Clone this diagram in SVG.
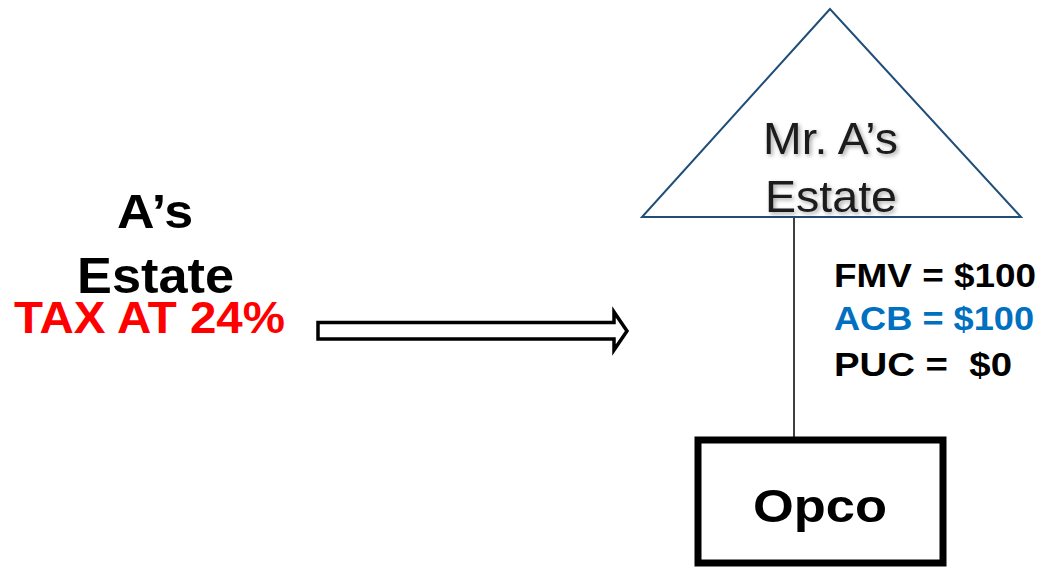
<svg xmlns="http://www.w3.org/2000/svg" width="1042" height="569" viewBox="0 0 1042 569">
<defs>
<style>
.b{font-family:"Liberation Sans",Arial,sans-serif;font-weight:bold;}
.r{font-family:"Liberation Sans",Arial,sans-serif;}
</style>
<filter id="sh" x="-20%" y="-20%" width="140%" height="160%">
<feDropShadow dx="2" dy="2" stdDeviation="2" flood-color="#000" flood-opacity="0.35"/>
</filter>
</defs>
<rect width="1042" height="569" fill="#fff"/>
<g id="left-label">
<text class="b" x="117" y="228" font-size="48" textLength="76" lengthAdjust="spacingAndGlyphs">A’s</text>
<text class="b" x="77" y="293" font-size="50" textLength="157" lengthAdjust="spacingAndGlyphs">Estate</text>
<text class="b" x="14" y="333" font-size="45" fill="#ff0000" textLength="271" lengthAdjust="spacingAndGlyphs">TAX AT 24%</text>
</g>
<g id="arrow">
<polygon points="318,322.5 614,322.5 614,312 627,331 614,350 614,339 318,339" fill="#fff" stroke="#000" stroke-width="3.5" stroke-linejoin="miter"/>
</g>
<g id="connectors">
<line x1="794" y1="217" x2="794" y2="437" stroke="#000" stroke-width="1.5"/>
</g>
<g id="estate">
<polygon points="830,9 642,217 1021,217" fill="#fff" stroke="#1f4e79" stroke-width="2"/>
<g filter="url(#sh)" fill="#1a1a1a">
<text class="r" x="763" y="154" font-size="45" textLength="135" lengthAdjust="spacingAndGlyphs">Mr. A’s</text>
<text class="r" x="765" y="212" font-size="45" textLength="132" lengthAdjust="spacingAndGlyphs">Estate</text>
</g>
</g>
<g id="values">
<text class="b" x="834" y="287" font-size="34" textLength="202" lengthAdjust="spacingAndGlyphs">FMV = $100</text>
<text class="b" x="834" y="330" font-size="34" fill="#0070c0" textLength="200" lengthAdjust="spacingAndGlyphs">ACB = $100</text>
<text class="b" x="834" y="376" font-size="34" xml:space="preserve" textLength="178" lengthAdjust="spacingAndGlyphs">PUC =  $0</text>
</g>
<g id="opco">
<rect x="698" y="440" width="245" height="123" fill="#fff" stroke="#000" stroke-width="7"/>
<text class="b" x="753" y="522" font-size="46" textLength="134" lengthAdjust="spacingAndGlyphs">Opco</text>
</g>
</svg>
